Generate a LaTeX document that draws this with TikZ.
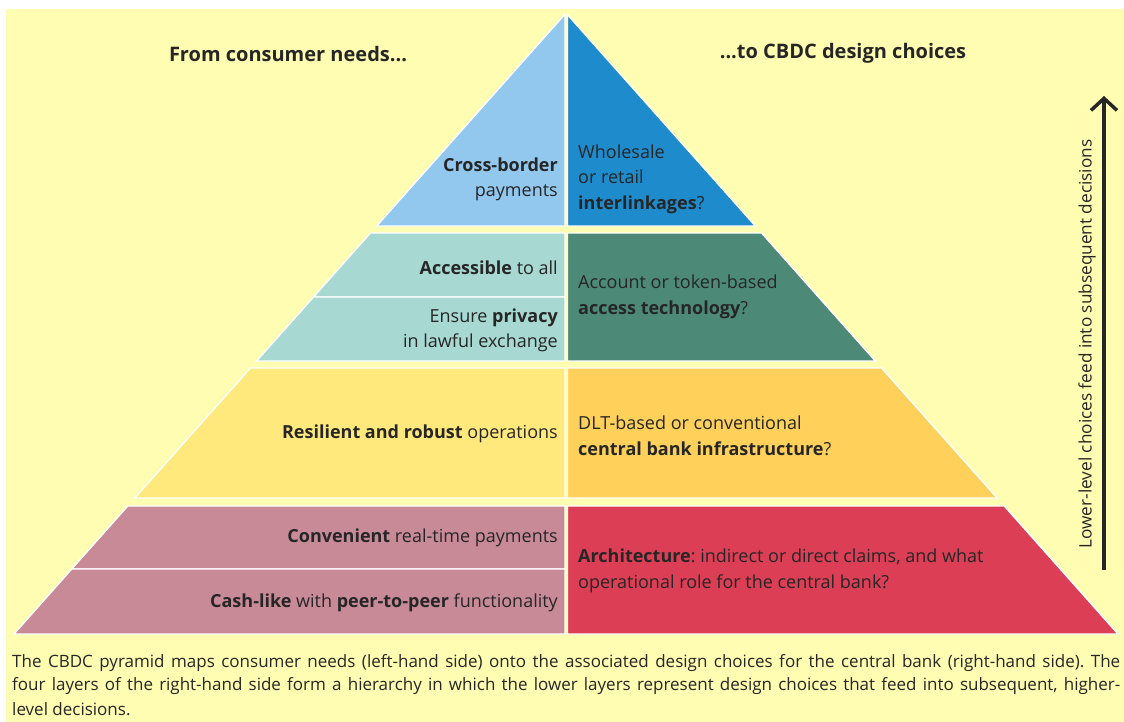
\documentclass[tikz,border=0pt]{standalone}
\usepackage{fontspec}
\setmainfont{Open Sans}
\usetikzlibrary{arrows.meta}
\frenchspacing
\definecolor{bg}{HTML}{FFFDB2}
\definecolor{txt}{HTML}{262626}
\definecolor{blueL}{HTML}{93C8EE}
\definecolor{blueR}{HTML}{1E8BCD}
\definecolor{tealL}{HTML}{A7D8D2}
\definecolor{tealR}{HTML}{4C8977}
\definecolor{yelL}{HTML}{FFE97D}
\definecolor{yelR}{HTML}{FFD05A}
\definecolor{pinkL}{HTML}{C78A96}
\definecolor{redR}{HTML}{DB3E55}
\tikzset{
  layer/.style={draw=white, line width=1.4pt, line join=miter},
  lefttext/.style={anchor=east, align=right, inner sep=0pt, text=txt, font=\fontsize{18}{25.5}\selectfont},
  righttext/.style={anchor=west, align=left, inner sep=0pt, text=txt, font=\fontsize{18}{25.5}\selectfont},
  header/.style={inner sep=0pt, text=txt, font=\fontsize{20}{24}\selectfont\bfseries},
  captionline/.style={anchor=west, inner sep=0pt, text=txt, font=\fontsize{17}{22}\selectfont},
}
\begin{document}
\frenchspacing
\begin{tikzpicture}[x=1pt,y=-1pt]
\useasboundingbox (0,0) rectangle (1124,722);
\fill[white] (0,0) rectangle (1124,722);
\fill[bg] (6,9) rectangle (1124,722);
% layer 1
\filldraw[layer, fill=blueL] (565,14.1) -- (376.6,226) -- (565,226) -- cycle;
\filldraw[layer, fill=blueR] (567.5,14.7) -- (755.4,226) -- (567.5,226) -- cycle;
% layer 2
\filldraw[layer, fill=tealL] (370.4,233) -- (565,233) -- (565,297) -- (313.5,297) -- cycle;
\filldraw[layer, fill=tealL] (313.5,297) -- (565,297) -- (565,361) -- (256.6,361) -- cycle;
\filldraw[layer, fill=tealR] (567.5,233) -- (761.6,233) -- (875.4,361) -- (567.5,361) -- cycle;
% layer 3
\filldraw[layer, fill=yelL] (250.4,368) -- (565,368) -- (565,498) -- (134.8,498) -- cycle;
\filldraw[layer, fill=yelR] (567.5,368) -- (881.6,368) -- (997.2,498) -- (567.5,498) -- cycle;
% layer 4
\filldraw[layer, fill=pinkL] (127.7,506) -- (565,506) -- (565,569) -- (71.7,569) -- cycle;
\filldraw[layer, fill=pinkL] (71.7,569) -- (565,569) -- (565,634) -- (14,634) -- cycle;
\filldraw[layer, fill=redR] (567.5,506) -- (1004.3,506) -- (1118,634) -- (567.5,634) -- cycle;

% headers
\node[header] (hl) at (288,54) {From consumer needs...};
\node[header] (hr) at (843,53) {...to CBDC design choices};

% texts
\node[lefttext] (t1l) at (558,179.5) {\textbf{Cross-border}\\payments};
\node[righttext] (t1r) at (578,179) {Wholesale\\or retail\\\textbf{interlinkages}?};
\node[lefttext] (t2la) at (558,268) {\textbf{Accessible} to all};
\node[lefttext] (t2lb) at (558,330.5) {Ensure \textbf{privacy}\\in lawful exchange};
\node[righttext] (t2r) at (578,297) {Account or token-based\\\textbf{access technology}?};
\node[lefttext] (t3l) at (558,434) {\textbf{Resilient and robust} operations};
\node[righttext] (t3r) at (578,436) {DLT-based or conventional\\\textbf{central bank infrastructure}?};
\node[lefttext] (t4la) at (558,538) {\textbf{Convenient} real-time payments};
\node[lefttext] (t4lb) at (558,603) {\textbf{Cash-like} with \textbf{peer-to-peer} functionality};
\node[righttext] (t4r) at (578,571) {\textbf{Architecture}: indirect or direct claims, and what\\operational role for the central bank?};

% arrow
\coordinate (abot) at (1104,570);
\coordinate (atop) at (1104,96);
\draw[line width=3.5pt, txt, -{Straight Barb[length=12pt,width=26pt]}] (abot) -- (atop);
\node[rotate=90, inner sep=0pt, text=txt, font=\fontsize{17.2}{20}\selectfont] (side) at (1087,344) {Lower-level choices feed into subsequent decisions};

% caption
\node[captionline] (c1) at (12,663) {\makebox[1108pt][s]{The CBDC pyramid maps consumer needs (left-hand side) onto the associated design choices for the central bank (right-hand side). The}};
\node[captionline] (c2) at (12,686) {\makebox[1108pt][s]{four layers of the right-hand side form a hierarchy in which the lower layers represent design choices that feed into subsequent, higher-}};
\node[captionline] (c3) at (12,709) {level decisions.};
\end{tikzpicture}
\end{document}
